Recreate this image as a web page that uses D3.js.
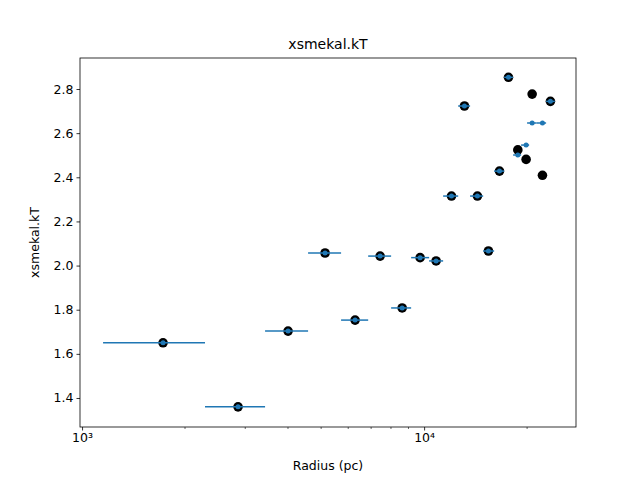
<!DOCTYPE html>
<html><head><meta charset="utf-8">
<script src="https://cdn.jsdelivr.net/npm/d3@7"></script>
<style>body{margin:0;background:#fff}text{font-family:"DejaVu Sans",sans-serif}</style>
</head><body><svg id="c" width="640" height="480"></svg>
<script>
// bin centres (pc) and bin edges
const radius = [1725, 2858, 4002, 5134, 6284, 7436, 8626, 9734, 10840, 12023, 13118, 14316, 15417, 16608, 17643, 18790, 19868, 20691, 22177, 23400];
const xLo = [1152, 2288, 3428, 4579, 5718, 6862, 8008, 9163, 10342, 11365, 12577, 13626, 14880, 16021, 17140, 18206, 19211, 20000, 21300, 22730];
const xHi = [2288, 3428, 4579, 5718, 6862, 8008, 9163, 10342, 11365, 12577, 13626, 14880, 16021, 17140, 18206, 19211, 20277, 21300, 22730, 24100];
const kTFit = [1.65, 1.36, 1.703, 2.057, 1.753, 2.043, 1.808, 2.036, 2.021, 2.315, 2.723, 2.315, 2.066, 2.428, 2.853, 2.501, 2.546, 2.646, 2.646, 2.744];
const kTPts = [1.65, 1.36, 1.703, 2.057, 1.753, 2.043, 1.808, 2.036, 2.021, 2.315, 2.723, 2.315, 2.066, 2.428, 2.853, 2.524, 2.481, 2.777, 2.409, 2.744];
const yTicks = [1.4, 1.6, 1.8, 2.0, 2.2, 2.4, 2.6, 2.8];

const svg = d3.select("#c");
const L = 80, R = 576, T = 58, B = 427;
const x = d3.scaleLog().domain([10 ** 2.994, 10 ** 4.444]).range([L, R]);
const y = d3.scaleLinear().domain([1.2686, 2.9405]).range([B, T]);

// black points
svg.selectAll(".pt").data(radius.map((r, i) => [r, kTPts[i]]))
  .enter().append("circle")
  .attr("cx", d => x(d[0])).attr("cy", d => y(d[1])).attr("r", 4.8).attr("fill", "black");

// blue error bars
const blue = "#1f77b4";
radius.forEach((r, i) => {
  svg.append("line").attr("x1", x(xLo[i])).attr("x2", x(xHi[i]))
    .attr("y1", y(kTFit[i])).attr("y2", y(kTFit[i]))
    .attr("stroke", blue).attr("stroke-width", 1.5);
  svg.append("circle").attr("cx", x(r)).attr("cy", y(kTFit[i])).attr("r", 2.5).attr("fill", blue);
});

// axes
const xAxis = d3.axisBottom(x).tickValues([1000, 10000])
  .tickFormat(d => d === 1000 ? "10\u00b3" : "10\u2074").tickSize(3.5).tickPadding(3);
const gx = svg.append("g").attr("transform", `translate(0,${B})`).call(xAxis);
const minor = [];
for (let e = 2; e <= 4; e++) for (let m = 2; m <= 9; m++) { const v = m * 10 ** e; if (v > x.domain()[0] && v < x.domain()[1]) minor.push(v); }
gx.selectAll(".minor").data(minor).enter().append("line")
  .attr("x1", d => x(d)).attr("x2", d => x(d)).attr("y1", 0).attr("y2", 2).attr("stroke", "black").attr("stroke-width", 0.6);
const gy = svg.append("g").attr("transform", `translate(${L},0)`)
  .call(d3.axisLeft(y).tickValues(yTicks).tickFormat(d3.format(".1f")).tickSize(3.5).tickPadding(3));
[gx, gy].forEach(g => {
  g.select(".domain").remove();
  g.selectAll("text").attr("font-size", 12.5).attr("fill", "black").attr("font-family", "DejaVu Sans");
  g.selectAll(".tick line").attr("stroke", "black").attr("stroke-width", 0.8);
});
svg.append("rect").attr("x", L).attr("y", T).attr("width", R - L).attr("height", B - T)
  .attr("fill", "none").attr("stroke", "black").attr("stroke-width", 0.8);

svg.append("text").attr("x", (L + R) / 2).attr("y", 49).attr("text-anchor", "middle").attr("font-size", 14).text("xsmekal.kT");
svg.append("text").attr("x", (L + R) / 2).attr("y", 470).attr("text-anchor", "middle").attr("font-size", 12.5).text("Radius (pc)");
svg.append("text").attr("transform", `translate(39,${(T + B) / 2}) rotate(-90)`).attr("text-anchor", "middle").attr("font-size", 12.5).text("xsmekal.kT");
</script></body></html>
